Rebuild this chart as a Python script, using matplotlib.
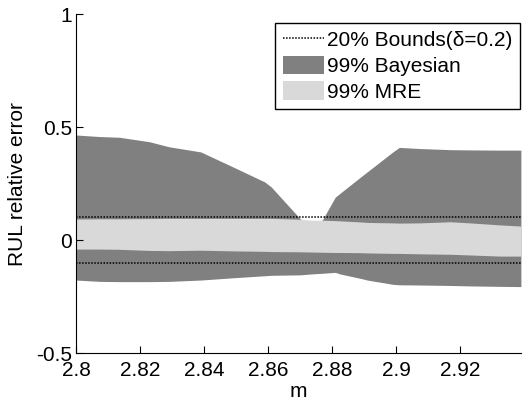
import matplotlib
matplotlib.use("Agg")
import matplotlib.pyplot as plt

plt.rcParams['font.family'] = ['Liberation Sans', 'DejaVu Sans']
plt.rcParams['axes.unicode_minus'] = False

# m grid and band limits
m = [2.800, 2.8075, 2.8135, 2.823, 2.829, 2.839, 2.849, 2.859, 2.861, 2.870,
     2.8735, 2.877, 2.881, 2.8825, 2.889, 2.891, 2.899, 2.901, 2.9075, 2.917,
     2.923, 2.9325, 2.939]
bayes_hi = [0.465, 0.458, 0.455, 0.435, 0.413, 0.390, 0.324, 0.257, 0.235, 0.095,
            0.050, 0.090, 0.190, 0.207, 0.280, 0.302, 0.390, 0.410, 0.405, 0.400,
            0.399, 0.398, 0.398]
bayes_lo = [-0.177, -0.183, -0.184, -0.184, -0.183, -0.177, -0.167, -0.158, -0.156, -0.154,
            -0.150, -0.147, -0.143, -0.150, -0.170, -0.177, -0.196, -0.198, -0.199, -0.201,
            -0.203, -0.205, -0.206]
mre_hi = [0.093, 0.094, 0.094, 0.095, 0.096, 0.096, 0.096, 0.096, 0.096, 0.092,
          0.088, 0.088, 0.086, 0.085, 0.080, 0.078, 0.076, 0.075, 0.076, 0.081,
          0.076, 0.067, 0.062]
mre_lo = [-0.040, -0.040, -0.041, -0.046, -0.047, -0.045, -0.048, -0.050, -0.051, -0.052,
          -0.053, -0.054, -0.055, -0.055, -0.056, -0.057, -0.059, -0.059, -0.061, -0.063,
          -0.066, -0.071, -0.071]
delta = 0.2
xticks = [2.8, 2.82, 2.84, 2.86, 2.88, 2.9, 2.92]
yticks = [-0.5, 0, 0.5, 1]
yticklabels = ['-0.5', '0', '0.5', '1']

fig = plt.figure(figsize=(5.23, 4.03), dpi=100)
ax = fig.add_axes([0.1453, 0.124, 0.8507, 0.841])

ax.fill_between(m, bayes_lo, bayes_hi, color='#808080', lw=0, label='99% Bayesian')
ax.fill_between(m, mre_lo, mre_hi, color='#d9d9d9', lw=0, label='99% MRE')
ax.plot([m[0], m[-1]], [delta / 2, delta / 2], color='black', lw=1.1,
        linestyle=(0, (1, 1)), label='20% Bounds(\u03b4=0.2)')
ax.plot([m[0], m[-1]], [-delta / 2, -delta / 2], color='black', lw=1.1,
        linestyle=(0, (1, 1)))

ax.set_xlim(2.8, 2.939)
ax.set_ylim(-0.5, 1)
ax.set_xticks(xticks)
ax.set_xticklabels([str(t) for t in xticks])
ax.set_yticks(yticks)
ax.set_yticklabels(yticklabels)
ax.tick_params(direction='in', length=5, labelsize=15, pad=3)
ax.tick_params(axis='x', pad=6)
ax.spines['top'].set_visible(False)
ax.spines['right'].set_visible(False)
ax.set_xlabel('m', fontsize=15, labelpad=1)
ax.set_ylabel('RUL relative error', fontsize=15, labelpad=6)

h, l = ax.get_legend_handles_labels()
order = [2, 0, 1]
leg = ax.legend([h[i] for i in order], [l[i] for i in order], loc='upper right',
                bbox_to_anchor=(0.998, 0.975), fontsize=15, fancybox=False,
                edgecolor='black', framealpha=1, borderpad=0.35,
                handlelength=2.0, handleheight=1.0, handletextpad=0.15,
                labelspacing=0.25, borderaxespad=0)
leg.get_frame().set_linewidth(1.0)

fig.savefig('out.png', dpi=100)
